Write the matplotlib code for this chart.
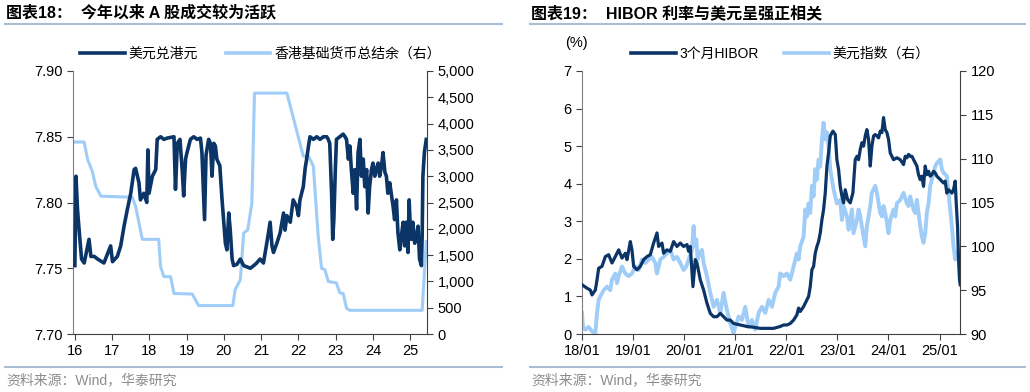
import matplotlib
matplotlib.use('Agg')
import matplotlib.pyplot as plt
from matplotlib.lines import Line2D

plt.rcParams['font.family'] = ['Liberation Sans', 'Noto Sans CJK SC', 'DejaVu Sans']
plt.rcParams['axes.unicode_minus'] = False

DARK = '#0b3467'
LIGHT = '#9fcdf7'
LINE_GRAY = '#a9bdd4'

# ---- chart 18: USD/HKD vs HK aggregate balance (years as 2000+x) ----
usdhkd_year = [16.00, 16.03, 16.07, 16.12, 16.18, 16.25, 16.38, 16.43, 16.52, 16.61,
               16.78, 16.96, 17.01, 17.14, 17.23, 17.32, 17.41, 17.50, 17.59, 17.63,
               17.72, 17.76, 17.85, 17.93, 17.96, 17.99, 18.08, 18.17, 18.21, 18.30,
               18.39, 18.48, 18.66, 18.70, 18.75, 18.82, 18.88, 18.92, 18.97, 19.01,
               19.10, 19.19, 19.28, 19.37, 19.41, 19.48, 19.52, 19.59, 19.64, 19.68,
               19.73, 19.77, 19.81, 19.89, 19.95, 19.99, 20.04, 20.08, 20.13, 20.17,
               20.22, 20.26, 20.35, 20.44, 20.53, 20.71, 20.80, 20.88, 20.97, 21.06,
               21.15, 21.24, 21.29, 21.33, 21.42, 21.51, 21.60, 21.64, 21.69, 21.78,
               21.86, 21.95, 22.00, 22.04, 22.13, 22.18, 22.22, 22.27, 22.31, 22.40,
               22.49, 22.58, 22.67, 22.76, 22.80, 22.84, 22.89, 22.92, 22.95, 22.99,
               23.02, 23.11, 23.20, 23.25, 23.29, 23.34, 23.38, 23.42, 23.47, 23.51,
               23.56, 23.60, 23.65, 23.69, 23.74, 23.78, 23.83, 23.87, 23.91, 23.96,
               24.00, 24.05, 24.09, 24.14, 24.18, 24.23, 24.27, 24.32, 24.36, 24.40,
               24.45, 24.49, 24.54, 24.58, 24.63, 24.67, 24.72, 24.76, 24.81, 24.85,
               24.89, 24.94, 24.97, 25.00, 25.03, 25.07, 25.12, 25.16, 25.21, 25.25,
               25.30, 25.32, 25.34, 25.38, 25.43]
usdhkd = [7.752, 7.820, 7.795, 7.777, 7.757, 7.754, 7.772, 7.759, 7.759, 7.757,
          7.754, 7.767, 7.755, 7.759, 7.767, 7.782, 7.795, 7.807, 7.825, 7.826,
          7.815, 7.802, 7.807, 7.800, 7.840, 7.807, 7.820, 7.825, 7.848, 7.850,
          7.848, 7.849, 7.850, 7.810, 7.845, 7.848, 7.825, 7.805, 7.833, 7.838,
          7.848, 7.850, 7.848, 7.849, 7.838, 7.787, 7.836, 7.848, 7.845, 7.820,
          7.845, 7.843, 7.833, 7.828, 7.802, 7.787, 7.769, 7.764, 7.792, 7.779,
          7.757, 7.752, 7.753, 7.757, 7.752, 7.750, 7.752, 7.754, 7.757, 7.754,
          7.769, 7.785, 7.767, 7.762, 7.769, 7.777, 7.792, 7.779, 7.790, 7.785,
          7.802, 7.797, 7.790, 7.802, 7.812, 7.826, 7.833, 7.843, 7.850, 7.848,
          7.850, 7.848, 7.850, 7.850, 7.848, 7.845, 7.807, 7.772, 7.787, 7.825,
          7.848, 7.850, 7.852, 7.850, 7.848, 7.833, 7.843, 7.825, 7.807, 7.825,
          7.795, 7.838, 7.848, 7.820, 7.833, 7.812, 7.825, 7.792, 7.812, 7.825,
          7.830, 7.820, 7.825, 7.830, 7.820, 7.828, 7.838, 7.823, 7.820, 7.807,
          7.815, 7.807, 7.797, 7.787, 7.802, 7.777, 7.764, 7.774, 7.785, 7.767,
          7.785, 7.762, 7.802, 7.782, 7.772, 7.785, 7.769, 7.772, 7.782, 7.757,
          7.752, 7.774, 7.820, 7.838, 7.848]

balance_year = [16.00, 16.25, 16.34, 16.47, 16.56, 16.70, 17.54, 17.63, 17.81, 18.25,
                18.30, 18.39, 18.57, 18.66, 19.15, 19.32, 20.24, 20.30, 20.44, 20.53,
                20.64, 20.75, 20.82, 21.69, 22.13, 22.27, 22.40, 22.53, 22.62, 22.71,
                22.80, 23.02, 23.11, 23.20, 23.29, 23.38, 25.32, 25.43]
balance = [3650, 3650, 3320, 3090, 2810, 2620, 2600, 2430, 1800, 1800,
           1280, 1090, 1090, 770, 760, 540, 540, 840, 1030, 1920,
           1980, 2490, 4580, 4580, 3380, 3380, 3190, 1860, 1250, 1220,
           1000, 970, 780, 770, 490, 450, 450, 1760]

years18 = [16, 17, 18, 19, 20, 21, 22, 23, 24, 25]

# ---- chart 19: 3M HIBOR vs dollar index (years after Jan 2018) ----
hibor_t = [0.000, 0.098, 0.163, 0.196, 0.261, 0.294, 0.326, 0.391, 0.457, 0.522,
           0.587, 0.652, 0.718, 0.783, 0.848, 0.881, 0.946, 0.978, 1.011, 1.076,
           1.142, 1.207, 1.272, 1.337, 1.402, 1.468, 1.500, 1.566, 1.598, 1.663,
           1.729, 1.794, 1.859, 1.924, 1.990, 2.055, 2.087, 2.120, 2.172, 2.218,
           2.250, 2.316, 2.381, 2.446, 2.511, 2.577, 2.642, 2.707, 2.772, 2.838,
           2.903, 2.968, 3.098, 3.229, 3.359, 3.490, 3.620, 3.751, 3.881, 3.947,
           4.012, 4.077, 4.142, 4.207, 4.240, 4.273, 4.338, 4.403, 4.436, 4.468,
           4.501, 4.534, 4.566, 4.599, 4.631, 4.664, 4.697, 4.729, 4.762, 4.795,
           4.827, 4.860, 4.912, 4.958, 4.990, 5.023, 5.055, 5.088, 5.121, 5.153,
           5.199, 5.251, 5.303, 5.349, 5.382, 5.414, 5.447, 5.479, 5.512, 5.545,
           5.577, 5.610, 5.643, 5.675, 5.708, 5.740, 5.773, 5.806, 5.838, 5.871,
           5.903, 5.936, 5.969, 6.001, 6.034, 6.067, 6.099, 6.164, 6.230, 6.295,
           6.327, 6.360, 6.393, 6.425, 6.458, 6.491, 6.556, 6.588, 6.621, 6.654,
           6.686, 6.719, 6.751, 6.784, 6.817, 6.849, 6.882, 6.914, 6.947, 7.012,
           7.078, 7.110, 7.143, 7.175, 7.208, 7.241, 7.273, 7.306, 7.326, 7.352,
           7.371, 7.391, 7.404]
hibor = [1.31, 1.22, 1.17, 1.04, 1.17, 1.44, 1.75, 1.80, 2.06, 2.11,
         1.89, 2.06, 2.24, 2.02, 2.15, 1.98, 2.46, 2.24, 1.80, 1.71,
         1.80, 1.98, 2.06, 2.11, 2.42, 2.69, 2.33, 2.42, 2.15, 2.24,
         2.20, 2.46, 2.33, 2.42, 2.33, 2.38, 2.20, 2.33, 1.26, 1.98,
         1.89, 1.44, 1.17, 0.82, 0.55, 0.46, 0.46, 0.55, 0.46, 0.37,
         0.37, 0.28, 0.24, 0.20, 0.18, 0.15, 0.15, 0.15, 0.20, 0.24,
         0.24, 0.28, 0.37, 0.51, 0.69, 0.60, 0.73, 0.91, 1.00, 1.26,
         1.71, 1.80, 2.15, 2.33, 2.46, 2.69, 3.04, 3.31, 3.75, 4.47,
         4.82, 5.27, 5.40, 5.31, 4.64, 4.38, 3.93, 3.67, 3.49, 3.84,
         3.58, 3.49, 3.75, 4.64, 4.73, 4.64, 4.91, 5.09, 5.00, 5.27,
         5.44, 5.18, 4.47, 5.00, 5.27, 5.31, 5.27, 5.22, 5.40, 5.36,
         5.76, 5.44, 5.36, 5.18, 4.82, 4.73, 4.64, 4.69, 4.64, 4.51,
         4.73, 4.69, 4.78, 4.73, 4.73, 4.64, 4.47, 4.24, 4.11, 4.20,
         3.93, 4.47, 4.24, 4.33, 4.20, 4.24, 4.33, 4.29, 4.20, 4.11,
         4.02, 4.07, 3.75, 3.84, 3.80, 3.75, 3.84, 4.07, 3.49, 2.86,
         1.98, 1.44, 1.31]

dxy_t = [0.000, 0.020, 0.065, 0.130, 0.196, 0.261, 0.294, 0.326, 0.359, 0.424,
         0.489, 0.554, 0.587, 0.652, 0.685, 0.718, 0.783, 0.848, 0.913, 0.978,
         1.044, 1.109, 1.174, 1.239, 1.305, 1.370, 1.435, 1.468, 1.533, 1.598,
         1.663, 1.729, 1.794, 1.859, 1.924, 1.990, 2.042, 2.087, 2.153, 2.185,
         2.205, 2.237, 2.264, 2.303, 2.348, 2.381, 2.446, 2.511, 2.577, 2.642,
         2.707, 2.772, 2.838, 2.903, 2.968, 3.001, 3.066, 3.131, 3.196, 3.262,
         3.327, 3.392, 3.457, 3.523, 3.588, 3.653, 3.718, 3.783, 3.849, 3.881,
         3.947, 4.012, 4.077, 4.142, 4.207, 4.240, 4.273, 4.338, 4.371, 4.403,
         4.436, 4.468, 4.501, 4.534, 4.566, 4.599, 4.631, 4.664, 4.697, 4.729,
         4.762, 4.795, 4.827, 4.860, 4.892, 4.925, 4.990, 5.055, 5.088, 5.121,
         5.186, 5.219, 5.251, 5.284, 5.316, 5.382, 5.414, 5.447, 5.479, 5.512,
         5.545, 5.577, 5.610, 5.643, 5.675, 5.740, 5.773, 5.806, 5.838, 5.871,
         5.903, 5.936, 5.969, 6.001, 6.034, 6.099, 6.132, 6.164, 6.230, 6.295,
         6.360, 6.393, 6.425, 6.491, 6.523, 6.556, 6.621, 6.654, 6.686, 6.719,
         6.751, 6.784, 6.817, 6.849, 6.914, 6.947, 7.012, 7.045, 7.078, 7.143,
         7.175, 7.208, 7.241, 7.273, 7.306, 7.339, 7.371]
dxy = [92.4, 90.8, 90.5, 90.8, 90.3, 90.1, 92.4, 93.9, 94.3, 95.0,
       95.4, 95.0, 96.2, 96.9, 95.8, 96.6, 97.7, 96.9, 96.6, 96.9,
       97.7, 97.3, 98.5, 98.1, 98.5, 98.8, 98.1, 96.9, 98.5, 98.8,
       99.2, 99.6, 98.5, 98.8, 98.1, 97.3, 97.7, 98.5, 99.6, 102.3,
       100.0, 100.8, 98.5, 99.2, 99.6, 98.1, 96.6, 94.7, 93.1, 93.9,
       92.4, 94.7, 92.7, 91.2, 90.1, 90.8, 92.0, 91.6, 93.1, 90.8,
       91.6, 90.5, 92.4, 93.1, 92.4, 93.9, 93.1, 94.7, 95.4, 96.9,
       96.6, 96.9, 96.2, 97.7, 99.2, 98.5, 100.0, 101.1, 104.2, 103.4,
       104.9, 103.8, 106.9, 105.7, 108.8, 107.6, 109.9, 109.1, 112.2, 114.1,
       112.2, 113.0, 111.4, 108.8, 107.6, 106.5, 104.9, 105.3, 103.0, 104.6,
       103.4, 101.9, 103.0, 104.2, 101.5, 103.0, 104.2, 103.4, 102.3, 101.1,
       100.0, 102.3, 103.4, 104.6, 106.1, 106.9, 106.1, 104.9, 103.8, 103.4,
       104.6, 103.8, 102.7, 101.5, 103.0, 104.2, 103.4, 104.9, 105.3, 106.1,
       104.9, 104.6, 105.7, 104.2, 103.8, 105.3, 102.3, 101.1, 100.4, 101.5,
       103.8, 104.9, 106.9, 107.6, 109.1, 109.5, 109.9, 108.8, 108.4, 108.0,
       106.1, 104.2, 102.3, 100.0, 98.5, 98.8, 99.6]

ticks19 = [0, 1, 2, 3, 4, 5, 6, 7]
ticklabels19 = ['18/01', '19/01', '20/01', '21/01', '22/01', '23/01', '24/01', '25/01']


def style_axes(ax, ax2):
    ax.spines['top'].set_visible(False)
    ax2.spines['top'].set_visible(False)
    ax.spines['left'].set_color('#808080')
    ax2.spines['left'].set_visible(False)
    ax.spines['right'].set_visible(False)
    ax2.spines['right'].set_color('#404040')
    ax.spines['bottom'].set_color('#404040')
    ax2.spines['bottom'].set_visible(False)
    ax.tick_params(axis='both', direction='out', length=4, labelsize=10.5,
                   colors='#404040', labelcolor='black')
    ax2.tick_params(axis='y', direction='out', length=4, labelsize=10.5,
                    colors='#404040', labelcolor='black')


fig = plt.figure(figsize=(10.3, 3.92), dpi=100)

# ---------------- left chart ----------------
ax1 = fig.add_axes([73 / 1030, 1 - 334 / 392, 354 / 1030, 263 / 392])
ax1b = ax1.twinx()
ax1b.plot(balance_year, balance, color=LIGHT, lw=2.2, zorder=2)
ax1.plot(usdhkd_year, usdhkd, color=DARK, lw=2.6, zorder=3)
ax1.set_zorder(ax1b.get_zorder() + 1)
ax1.patch.set_visible(False)
ax1.set_xlim(15.95, 25.45)
ax1.set_ylim(7.70, 7.90)
ax1.set_yticks([7.70, 7.75, 7.80, 7.85, 7.90])
ax1.set_yticklabels(['7.70', '7.75', '7.80', '7.85', '7.90'])
ax1.set_xticks(years18)
ax1.set_xticklabels([str(y) for y in years18])
ax1b.set_ylim(0, 5000)
ax1b.set_yticks(range(0, 5001, 500))
ax1b.set_yticklabels([f'{v:,}' for v in range(0, 5001, 500)])
style_axes(ax1, ax1b)
h1 = [Line2D([], [], color=DARK, lw=2.6), Line2D([], [], color=LIGHT, lw=2.6)]
ax1.legend(h1, ['美元兑港元', '香港基础货币总结余（右）'], loc='lower center',
           bbox_to_anchor=(0.53, 0.99), ncol=2, frameon=False, fontsize=10,
           handlelength=3.2, columnspacing=2.0, handletextpad=0.3)

# ---------------- right chart ----------------
ax2 = fig.add_axes([582 / 1030, 1 - 334 / 392, 378 / 1030, 263 / 392])
ax2b = ax2.twinx()
ax2b.plot(dxy_t, dxy, color=LIGHT, lw=2.8, zorder=2)
ax2.plot(hibor_t, hibor, color=DARK, lw=2.3, zorder=3)
ax2.set_zorder(ax2b.get_zorder() + 1)
ax2.patch.set_visible(False)
ax2.set_xlim(0, 7.40)
ax2.set_ylim(0, 7)
ax2.set_yticks(range(0, 8))
ax2.set_xticks(ticks19)
ax2.set_xticklabels(ticklabels19)
ax2b.set_ylim(90, 120)
ax2b.set_yticks(range(90, 121, 5))
style_axes(ax2, ax2b)
h2 = [Line2D([], [], color=DARK, lw=2.6), Line2D([], [], color=LIGHT, lw=2.6)]
ax2.legend(h2, ['3个月HIBOR', '美元指数（右）'], loc='lower center',
           bbox_to_anchor=(0.525, 0.99), ncol=2, frameon=False, fontsize=10,
           handlelength=3.2, columnspacing=1.8, handletextpad=0.3)
fig.text(565 / 1030, 1 - 43 / 392, '(%)', fontsize=10.5, ha='left', va='center')

# ---------------- titles, rules, sources ----------------
fig.text(6 / 1030, 1 - 13 / 392, '图表18：  今年以来 A 股成交较为活跃', fontsize=11.5,
         fontweight='bold', ha='left', va='center')
fig.text(531 / 1030, 1 - 13 / 392, '图表19：  HIBOR 利率与美元呈强正相关', fontsize=11.5,
         fontweight='bold', ha='left', va='center')
for x0, x1 in [(5, 502), (530, 1025)]:
    for yy in (24, 367):
        fig.add_artist(Line2D([x0 / 1030, x1 / 1030], [1 - yy / 392, 1 - yy / 392],
                              color=LINE_GRAY, lw=1.5))
fig.text(6 / 1030, 1 - 380 / 392, '资料来源：Wind，华泰研究', fontsize=10,
         color='#8c8c8c', ha='left', va='center')
fig.text(531 / 1030, 1 - 380 / 392, '资料来源：Wind，华泰研究', fontsize=10,
         color='#8c8c8c', ha='left', va='center')

fig.savefig('out.png', dpi=100)
